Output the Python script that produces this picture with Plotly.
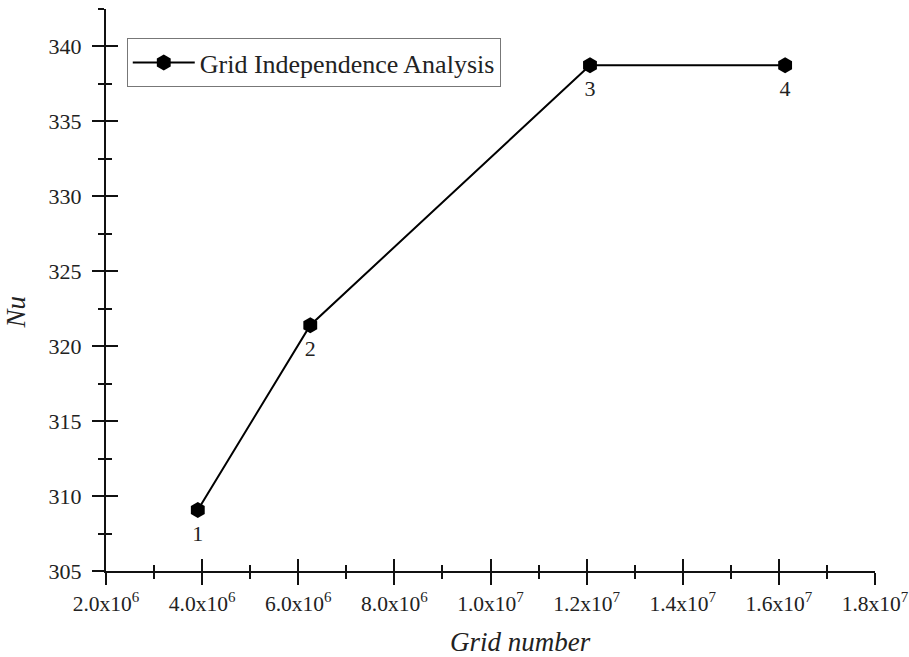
import plotly.graph_objects as go

grid_number = [3.91e6, 6.25e6, 1.207e7, 1.613e7]
nu_values = [309.07, 321.4, 338.75, 338.75]
point_labels = ["1", "2", "3", "4"]
series_name = "Grid Independence Analysis"

x_tickvals = [2e6, 4e6, 6e6, 8e6, 1e7, 1.2e7, 1.4e7, 1.6e7, 1.8e7]
x_ticktext = ["2.0x10<sup>6</sup>", "4.0x10<sup>6</sup>", "6.0x10<sup>6</sup>",
              "8.0x10<sup>6</sup>", "1.0x10<sup>7</sup>", "1.2x10<sup>7</sup>",
              "1.4x10<sup>7</sup>", "1.6x10<sup>7</sup>", "1.8x10<sup>7</sup>"]
y_tickvals = [305, 310, 315, 320, 325, 330, 335, 340]

FONT = "Liberation Serif"
TXT = "#222"
xr = [2e6, 1.8e7]
yr = [305, 342.5]

fig = go.Figure()
fig.add_trace(go.Scatter(
    x=grid_number, y=nu_values, mode="lines+markers", name=series_name,
    line=dict(color="black", width=2),
    marker=dict(symbol="hexagon", size=16, color="black"),
))
fig.add_trace(go.Scatter(
    x=grid_number, y=nu_values, mode="markers+text", text=point_labels,
    textposition="bottom center", showlegend=False, hoverinfo="skip",
    marker=dict(size=22, opacity=0),
    textfont=dict(family=FONT, size=22, color=TXT),
))
# overlay axes for inward ticks
fig.add_trace(go.Scatter(x=xr, y=yr, mode="markers", marker=dict(opacity=0),
                         xaxis="x2", yaxis="y2", showlegend=False, hoverinfo="skip"))

ytick_font = dict(family=FONT, size=22, color=TXT)
xtick_font = dict(family=FONT, size=21.5, color=TXT)
fig.update_layout(
    width=909, height=657,
    margin=dict(l=106, r=34, t=9, b=86),
    paper_bgcolor="white", plot_bgcolor="white",
    font=dict(family=FONT, size=21, color=TXT),
    showlegend=True,
    legend=dict(x=0.027, y=0.948, xanchor="left", yanchor="top",
                bordercolor="#777", borderwidth=1, bgcolor="white",
                font=dict(family=FONT, size=26, color=TXT),
                itemwidth=62, tracegroupgap=0),
    xaxis=dict(range=xr, tickvals=x_tickvals, ticktext=x_ticktext, automargin=False,
               ticklabeloverflow="allow",
               showgrid=False, zeroline=False, showline=True, linecolor="#111", linewidth=2,
               ticks="outside", ticklen=12, tickwidth=2, tickcolor="#111",
               minor=dict(dtick=1e6, tick0=2e6, ticks="outside", ticklen=6, tickwidth=2, tickcolor="#111"),
               tickfont=xtick_font),
    yaxis=dict(range=yr, tickvals=y_tickvals, automargin=False, ticklabelstandoff=6,
               ticklabeloverflow="allow",
               showgrid=False, zeroline=False, showline=True, linecolor="#111", linewidth=2,
               ticks="outside", ticklen=12, tickwidth=2, tickcolor="#111",
               minor=dict(dtick=2.5, tick0=305, ticks="outside", ticklen=6, tickwidth=2, tickcolor="#111"),
               tickfont=ytick_font),
    xaxis2=dict(range=xr, overlaying="x", anchor="y2", side="bottom", automargin=False,
                tickvals=x_tickvals, showticklabels=False, showgrid=False, zeroline=False, showline=False,
                ticks="inside", ticklen=12, tickwidth=2, tickcolor="#111",
                minor=dict(dtick=1e6, tick0=2e6, ticks="inside", ticklen=6, tickwidth=2, tickcolor="#111")),
    yaxis2=dict(range=yr, overlaying="y", anchor="x2", side="left", automargin=False,
                tickvals=y_tickvals + [342.5], showticklabels=False, showgrid=False, zeroline=False, showline=False,
                ticks="inside", ticklen=12, tickwidth=2, tickcolor="#111",
                minor=dict(dtick=2.5, tick0=305, ticks="inside", ticklen=6, tickwidth=2, tickcolor="#111")),
    annotations=[
        dict(text="<i>Grid number</i>", xref="paper", yref="paper", x=0.539, y=-0.127,
             xanchor="center", yanchor="middle", showarrow=False,
             font=dict(family=FONT, size=27, color=TXT)),
        dict(text="<i>Nu</i>", xref="paper", yref="paper", x=-0.117, y=0.46,
             xanchor="center", yanchor="middle", showarrow=False, textangle=-90,
             font=dict(family=FONT, size=27, color=TXT)),
    ],
)

fig.write_html("out.html")
